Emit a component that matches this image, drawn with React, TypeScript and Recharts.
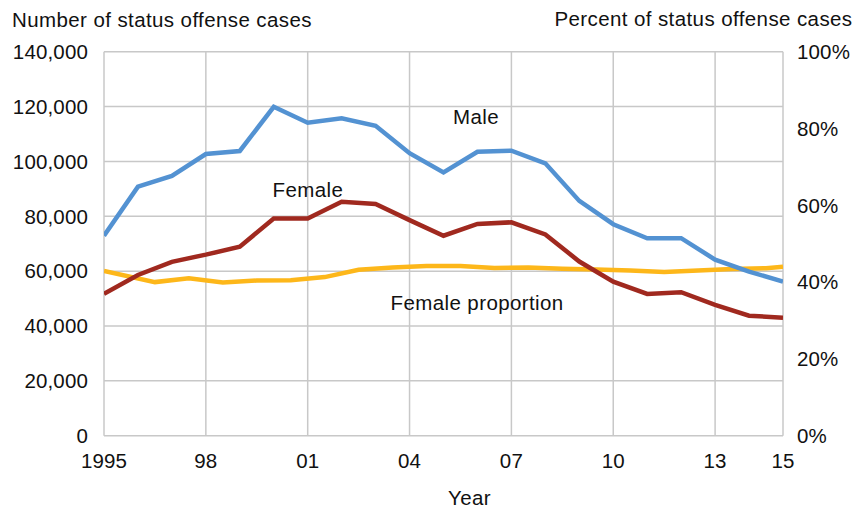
import { CartesianGrid, Line, LineChart, XAxis, YAxis } from "recharts";

const years = [
  1995, 1996, 1997, 1998, 1999, 2000, 2001, 2002, 2003, 2004, 2005, 2006,
  2007, 2008, 2009, 2010, 2011, 2012, 2013, 2014, 2015,
];
const maleCases = [
  72900, 90800, 94700, 102700, 103800, 119900, 114100, 115700, 113000, 103000,
  96000, 103500, 103900, 99300, 85600, 77100, 72000, 72000, 64200, 59800,
  56200,
];
const femaleCases = [
  51700, 58600, 63400, 66000, 68900, 79200, 79200, 85300, 84500, 78600, 72900,
  77200, 77800, 73400, 63500, 56150, 51700, 52300, 47700, 43750, 43000,
];

// the proportion line is plotted between the year ticks in the original
const proportionYears = [
  1995, 1996.5, 1997.5, 1998.5, 1999.5, 2000.5, 2001.5, 2002.5, 2003.5,
  2004.5, 2005.5, 2006.5, 2007.5, 2008.5, 2009.5, 2010.5, 2011.5, 2012.5,
  2013.5, 2014.5, 2015,
];
const femaleProportion = [
  42.9, 40.0, 41.0, 39.9, 40.4, 40.5, 41.3, 43.2, 43.8, 44.2, 44.2, 43.7,
  43.8, 43.5, 43.3, 43.0, 42.6, 43.0, 43.4, 43.6, 44.0,
];

const yearTicks = [1995, 1998, 2001, 2004, 2007, 2010, 2013, 2015];
const caseTicks = [0, 20000, 40000, 60000, 80000, 100000, 120000, 140000];
const percentTicks = [0, 20, 40, 60, 80, 100];

const casesData = years.map((year, i) => ({
  year,
  male: maleCases[i],
  female: femaleCases[i],
}));
const proportionData = proportionYears.map((year, i) => ({
  year,
  proportion: femaleProportion[i],
}));

const textColor = "#111";
const tickStyle = { fontSize: 20.5, fill: textColor, letterSpacing: 0.15 };

function Note({
  left,
  top,
  right,
  children,
}: {
  left?: number;
  top: number;
  right?: number;
  children: string;
}) {
  return (
    <div
      style={{
        position: "absolute",
        left,
        right,
        top,
        fontSize: 20.5,
        lineHeight: "20.5px",
        letterSpacing: 0.4,
        color: textColor,
        whiteSpace: "nowrap",
      }}
    >
      {children}
    </div>
  );
}

export default function App() {
  return (
    <div
      style={{
        position: "absolute",
        left: 0,
        top: 0,
        width: 866,
        height: 510,
        background: "#fff",
        fontFamily: "'Liberation Sans', Arial, sans-serif",
      }}
    >
      <LineChart
        width={866}
        height={510}
        margin={{ top: 51.7, right: 23, bottom: 44.3, left: 8 }}
      >
        <CartesianGrid yAxisId="left" stroke="#c8c8c8" strokeWidth={1.5} />
        <XAxis
          dataKey="year"
          type="number"
          domain={[1995, 2015]}
          ticks={yearTicks}
          allowDataOverflow
          axisLine={false}
          tickLine={false}
          tickSize={0}
          tickMargin={17.5}
          tick={tickStyle}
          tickFormatter={(v: number) =>
            v === 1995 ? "1995" : String(v % 100).padStart(2, "0")
          }
          height={30}
        />
        <YAxis
          yAxisId="left"
          domain={[0, 140000]}
          ticks={caseTicks}
          axisLine={false}
          tickLine={false}
          tickSize={0}
          tickMargin={16}
          width={96}
          tick={tickStyle}
          tickFormatter={(v: number) => v.toLocaleString("en-US")}
        />
        <YAxis
          yAxisId="right"
          orientation="right"
          domain={[0, 100]}
          ticks={percentTicks}
          axisLine={false}
          tickLine={false}
          tickSize={0}
          tickMargin={14}
          width={60}
          tick={tickStyle}
          tickFormatter={(v: number) => `${v}%`}
        />
        <Line
          yAxisId="right"
          data={proportionData}
          dataKey="proportion"
          stroke="#fdb71a"
          strokeWidth={4.5}
          dot={false}
          isAnimationActive={false}
        />
        <Line
          yAxisId="left"
          data={casesData}
          dataKey="female"
          stroke="#a0291f"
          strokeWidth={4.5}
          dot={false}
          isAnimationActive={false}
        />
        <Line
          yAxisId="left"
          data={casesData}
          dataKey="male"
          stroke="#5392d2"
          strokeWidth={4.5}
          dot={false}
          isAnimationActive={false}
        />
      </LineChart>

      <Note left={12} top={9.7}>Number of status offense cases</Note>
      <Note right={13.5} top={9}>Percent of status offense cases</Note>
      <Note left={453} top={107}>Male</Note>
      <Note left={272.5} top={180}>Female</Note>
      <Note left={390.5} top={292.7}>Female proportion</Note>
      <Note left={448} top={488}>Year</Note>
    </div>
  );
}
